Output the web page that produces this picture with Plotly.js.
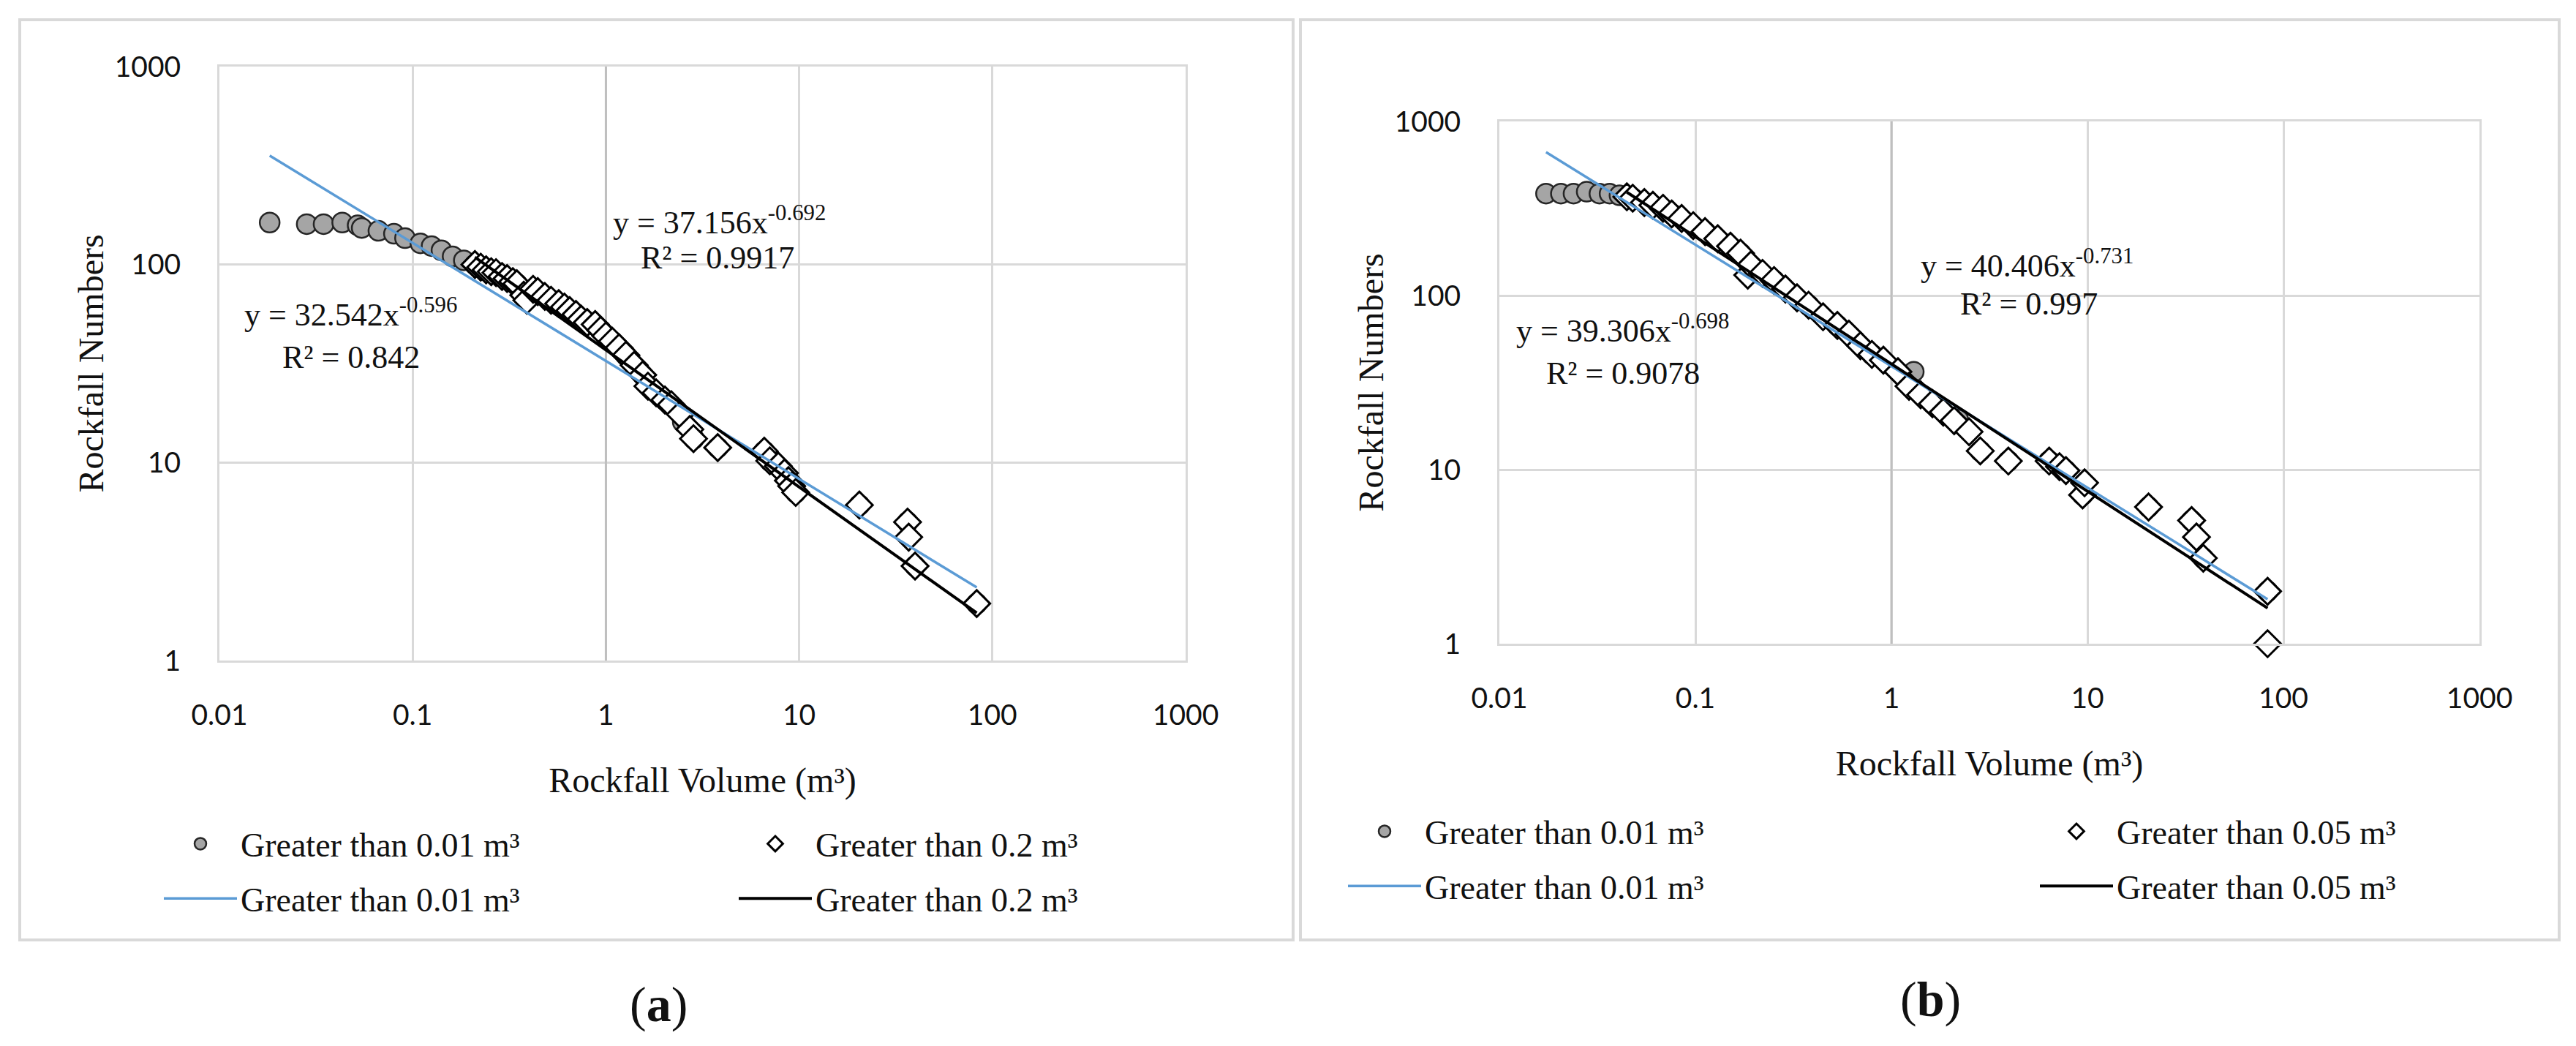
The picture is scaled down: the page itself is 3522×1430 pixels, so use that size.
<!DOCTYPE html>
<html><head><meta charset="utf-8">
<script src="https://cdn.plot.ly/plotly-3.0.1.min.js"></script>
<style>html,body{margin:0;padding:0;background:#fff}#chart{width:3522px;height:1430px}</style>
</head><body><div id="chart"></div>
<script>
// ---- tick labels ----
const xTickVals = [0.01, 0.1, 1, 10, 100, 1000];
const xTickText = ['0.01', '0.1', '1', '10', '100', '1000'];
const yTickVals = [1, 10, 100, 1000];
const yTickText = ['1', '10', '100', '1000'];

// ---- panel (a) ----
const volA_gt001 = [0.0182,0.0283,0.0346,0.0432,0.0519,0.0545,0.0665,0.080,0.0913,0.1097,0.1253,0.141,0.161,0.184,0.21,0.27,0.346,0.444,0.57,0.745,0.94,1.0,1.27,1.55,2.02,2.5,2.85,3.79,6.6,7.05,8.8,9.6,20.5,36.4,39.8,83];
const numA_gt001 = [163,160,160,163,158,153,148,143,136,128,124,118,110,105,100,91,80,73,63.5,53,46.6,43.6,34.8,27.7,20.7,16,13.2,11.9,11.4,10.2,8.1,7.06,6.1,5.0,3.0,1.94];
const volA_gt02 = [0.21,0.225,0.24,0.255,0.27,0.29,0.308,0.33,0.346,0.376,0.39,0.42,0.444,0.483,0.52,0.57,0.61,0.65,0.70,0.745,0.80,0.88,0.94,1.0,1.08,1.17,1.27,1.40,1.55,1.65,1.82,2.02,2.18,2.43,2.72,2.84,3.79,6.6,7.05,7.8,8.4,8.8,9.15,9.6,20.5,36.4,36.9,39.8,83];
const numA_gt02 = [100,97,94,92,91,87,85,82,80,70,66,75,73,69,66,63.5,61,58.5,56,53,51,49.8,46.6,43.6,41,38,34.8,31,27.7,24.3,22.5,20.7,19.6,17.5,14.7,13.2,11.9,11.4,10.2,9.6,8.85,8.1,7.6,7.06,6.1,5.0,4.2,3.0,1.94];
const trendA_gt001_x = [0.0182, 83];
const trendA_gt001_y = [355, 2.34];
const trendA_gt02_x = [0.21, 83];
const trendA_gt02_y = [109, 1.74];
const labelsA = ['Greater than 0.01 m³', 'Greater than 0.2 m³'];
const eqA = ['y = 37.156x<sup>-0.692</sup>', 'R² = 0.9917', 'y = 32.542x<sup>-0.596</sup>', 'R² = 0.842'];

// ---- panel (b) ----
const volB_gt001 = [0.0173,0.0206,0.0239,0.0279,0.0324,0.0365,0.0410,0.0479,0.0757,0.112,0.170,0.252,0.378,0.530,0.795,1.30,1.62,2.19,2.84,3.95,6.38,7.77,9.45,20.5,34.0,39.0,83.0];
const numB_gt001 = [385,385,385,395,385,385,376,362,294,233,175,122,88,67.3,45.9,36.5,23.9,19.4,12.8,11.2,11.2,9.87,7.15,6.1,5.1,3.1,2.0];
const volB_gt005 = [0.0447,0.0479,0.0549,0.0607,0.0684,0.0757,0.0851,0.0975,0.112,0.130,0.151,0.170,0.185,0.192,0.220,0.252,0.288,0.330,0.378,0.448,0.530,0.607,0.695,0.795,0.910,1.08,1.23,1.41,1.62,1.84,2.09,2.49,2.84,3.95,6.38,7.20,7.77,9.45,9.67,20.5,34.0,36.0,39.0,83.0,83.0];
const numB_gt005 = [369,362,342,330,317,294,277,252,233,212,192,175,131,150,134,122,109,97,88,75.5,67.3,60,51.5,45.9,42.5,36.5,30.1,26.9,23.9,21.4,19.1,16.5,12.8,11.2,11.2,10.4,9.87,7.15,8.4,6.1,5.1,4.1,3.1,2.0,1.0];
const trendB_gt001_x = [0.0173, 83];
const trendB_gt001_y = [666, 1.80];
const trendB_gt005_x = [0.0447, 83];
const trendB_gt005_y = [392, 1.60];
const labelsB = ['Greater than 0.01 m³', 'Greater than 0.05 m³'];
const eqB = ['y = 40.406x<sup>-0.731</sup>', 'R² = 0.997', 'y = 39.306x<sup>-0.698</sup>', 'R² = 0.9078'];

const axisTitleX = 'Rockfall Volume (m³)';
const axisTitleY = 'Rockfall Numbers';
const panelLabels = ['(<b>a</b>)', '(<b>b</b>)'];

// ---- styling ----
const W = 3522, H = 1430;
const SERIF = '"Liberation Serif", "Times New Roman", serif';
const SANS = 'Lato, "Open Sans", sans-serif';
const GRID = '#d9d9d9';
const BLUE = '#5b9bd5';
const px = v => v / W;
const py = v => 1 - v / H;

function circleTrace(x, y, xa, ya, name, leg) {
  return {x, y, xaxis: xa, yaxis: ya, type: 'scatter', mode: 'markers', name, legend: leg, legendgroup: leg + 'm',
    cliponaxis: false,
    marker: {symbol: 'circle', size: 27, color: '#a5a5a5', line: {color: '#262626', width: 2.5}}};
}
function diamondTrace(x, y, xa, ya, name, leg) {
  return {x, y, xaxis: xa, yaxis: ya, type: 'scatter', mode: 'markers', name, legend: leg, legendgroup: leg + 'm',
    cliponaxis: false,
    marker: {symbol: 'diamond', size: 28, color: '#ffffff', line: {color: '#000', width: 3}}};
}
function lineTrace(x, y, xa, ya, name, leg, color, width) {
  return {x, y, xaxis: xa, yaxis: ya, type: 'scatter', mode: 'lines', name, legend: leg, legendgroup: leg + 'l',
    line: {color, width}};
}

const data = [
  circleTrace(volA_gt001, numA_gt001, 'x', 'y', labelsA[0], 'legend'),
  diamondTrace(volA_gt02, numA_gt02, 'x', 'y', labelsA[1], 'legend2'),
  lineTrace(trendA_gt001_x, trendA_gt001_y, 'x', 'y', labelsA[0], 'legend', BLUE, 3.5),
  lineTrace(trendA_gt02_x, trendA_gt02_y, 'x', 'y', labelsA[1], 'legend2', '#000', 4),
  circleTrace(volB_gt001, numB_gt001, 'x2', 'y2', labelsB[0], 'legend3'),
  diamondTrace(volB_gt005, numB_gt005, 'x2', 'y2', labelsB[1], 'legend4'),
  lineTrace(trendB_gt001_x, trendB_gt001_y, 'x2', 'y2', labelsB[0], 'legend3', BLUE, 3.5),
  lineTrace(trendB_gt005_x, trendB_gt005_y, 'x2', 'y2', labelsB[1], 'legend4', '#000', 4)
];

function xAxis(domain, anchor) {
  return {type: 'log', domain, anchor, range: [-2, 3], tickvals: xTickVals, ticktext: xTickText,
    showgrid: true, gridcolor: GRID, gridwidth: 3, showline: true, mirror: true, linecolor: GRID, linewidth: 3,
    ticks: '', ticklabelstandoff: 38, tickfont: {family: SANS, size: 39, color: '#111'},
    title: {text: axisTitleX, font: {family: SERIF, size: 48, color: '#111'}, standoff: 52},
    zeroline: false, fixedrange: true};
}
function yAxis(domain, anchor) {
  return {type: 'log', domain, anchor, range: [0, 3], tickvals: yTickVals, ticktext: yTickText,
    showgrid: true, gridcolor: GRID, gridwidth: 3, showline: true, mirror: true, linecolor: GRID, linewidth: 3,
    ticks: '', ticklabelstandoff: 42, tickfont: {family: SANS, size: 39, color: '#111'},
    title: {text: axisTitleY, font: {family: SERIF, size: 48, color: '#111'}, standoff: 0},
    zeroline: false, fixedrange: true};
}

function legendAt(xLeft, yMid) {
  return {x: px(xLeft), xanchor: 'left', y: py(yMid), yanchor: 'middle', orientation: 'v',
    itemwidth: 100, tracegroupgap: 12, bgcolor: 'rgba(0,0,0,0)', borderwidth: 0,
    font: {family: SERIF, size: 46, color: '#111'}};
}

function ann(text, xl, yc, size, anchor) {
  return {text, xref: 'paper', yref: 'paper', x: px(xl), y: py(yc), xanchor: anchor || 'left', yanchor: 'middle',
    showarrow: false, font: {family: SERIF, size: size || 44, color: '#111'}};
}

const layout = {
  width: W, height: H, margin: {l: 0, r: 0, t: 0, b: 0}, paper_bgcolor: '#fff', plot_bgcolor: '#fff',
  xaxis: xAxis([px(300), px(1621)], 'y'),
  yaxis: yAxis([py(903), py(91)], 'x'),
  xaxis2: xAxis([px(2050), px(3390)], 'y2'),
  yaxis2: yAxis([py(880), py(166)], 'x2'),
  legend: legendAt(219, 1191),
  legend2: legendAt(1005, 1191),
  legend3: legendAt(1838, 1174),
  legend4: legendAt(2784, 1174),
  shapes: [
    {type: 'rect', xref: 'paper', yref: 'paper', x0: px(27), x1: px(1768), y0: py(1285), y1: py(27), line: {color: GRID, width: 4}, layer: 'below'},
    {type: 'rect', xref: 'paper', yref: 'paper', x0: px(1778), x1: px(3499), y0: py(1285), y1: py(27), line: {color: GRID, width: 4}, layer: 'below'},
    {type: 'line', xref: 'x', yref: 'y', x0: 1, x1: 1, y0: yTickVals[0], y1: yTickVals[yTickVals.length - 1], line: {color: '#bfbfbf', width: 3}, layer: 'between'},
    {type: 'line', xref: 'x2', yref: 'y2', x0: 1, x1: 1, y0: yTickVals[0], y1: yTickVals[yTickVals.length - 1], line: {color: '#bfbfbf', width: 3}, layer: 'between'}
  ],
  annotations: [
    ann(eqA[0], 836, 302), ann(eqA[1], 874, 352), ann(eqA[2], 332, 428), ann(eqA[3], 384, 488),
    ann(eqB[0], 2624, 360), ann(eqB[1], 2678, 415), ann(eqB[2], 2071, 449), ann(eqB[3], 2112, 510),
    ann(panelLabels[0], 901, 1373, 68, 'center'), ann(panelLabels[1], 2639, 1366, 68, 'center')
  ]
};

Plotly.newPlot('chart', data, layout, {displayModeBar: false, staticPlot: true});
</script></body></html>
